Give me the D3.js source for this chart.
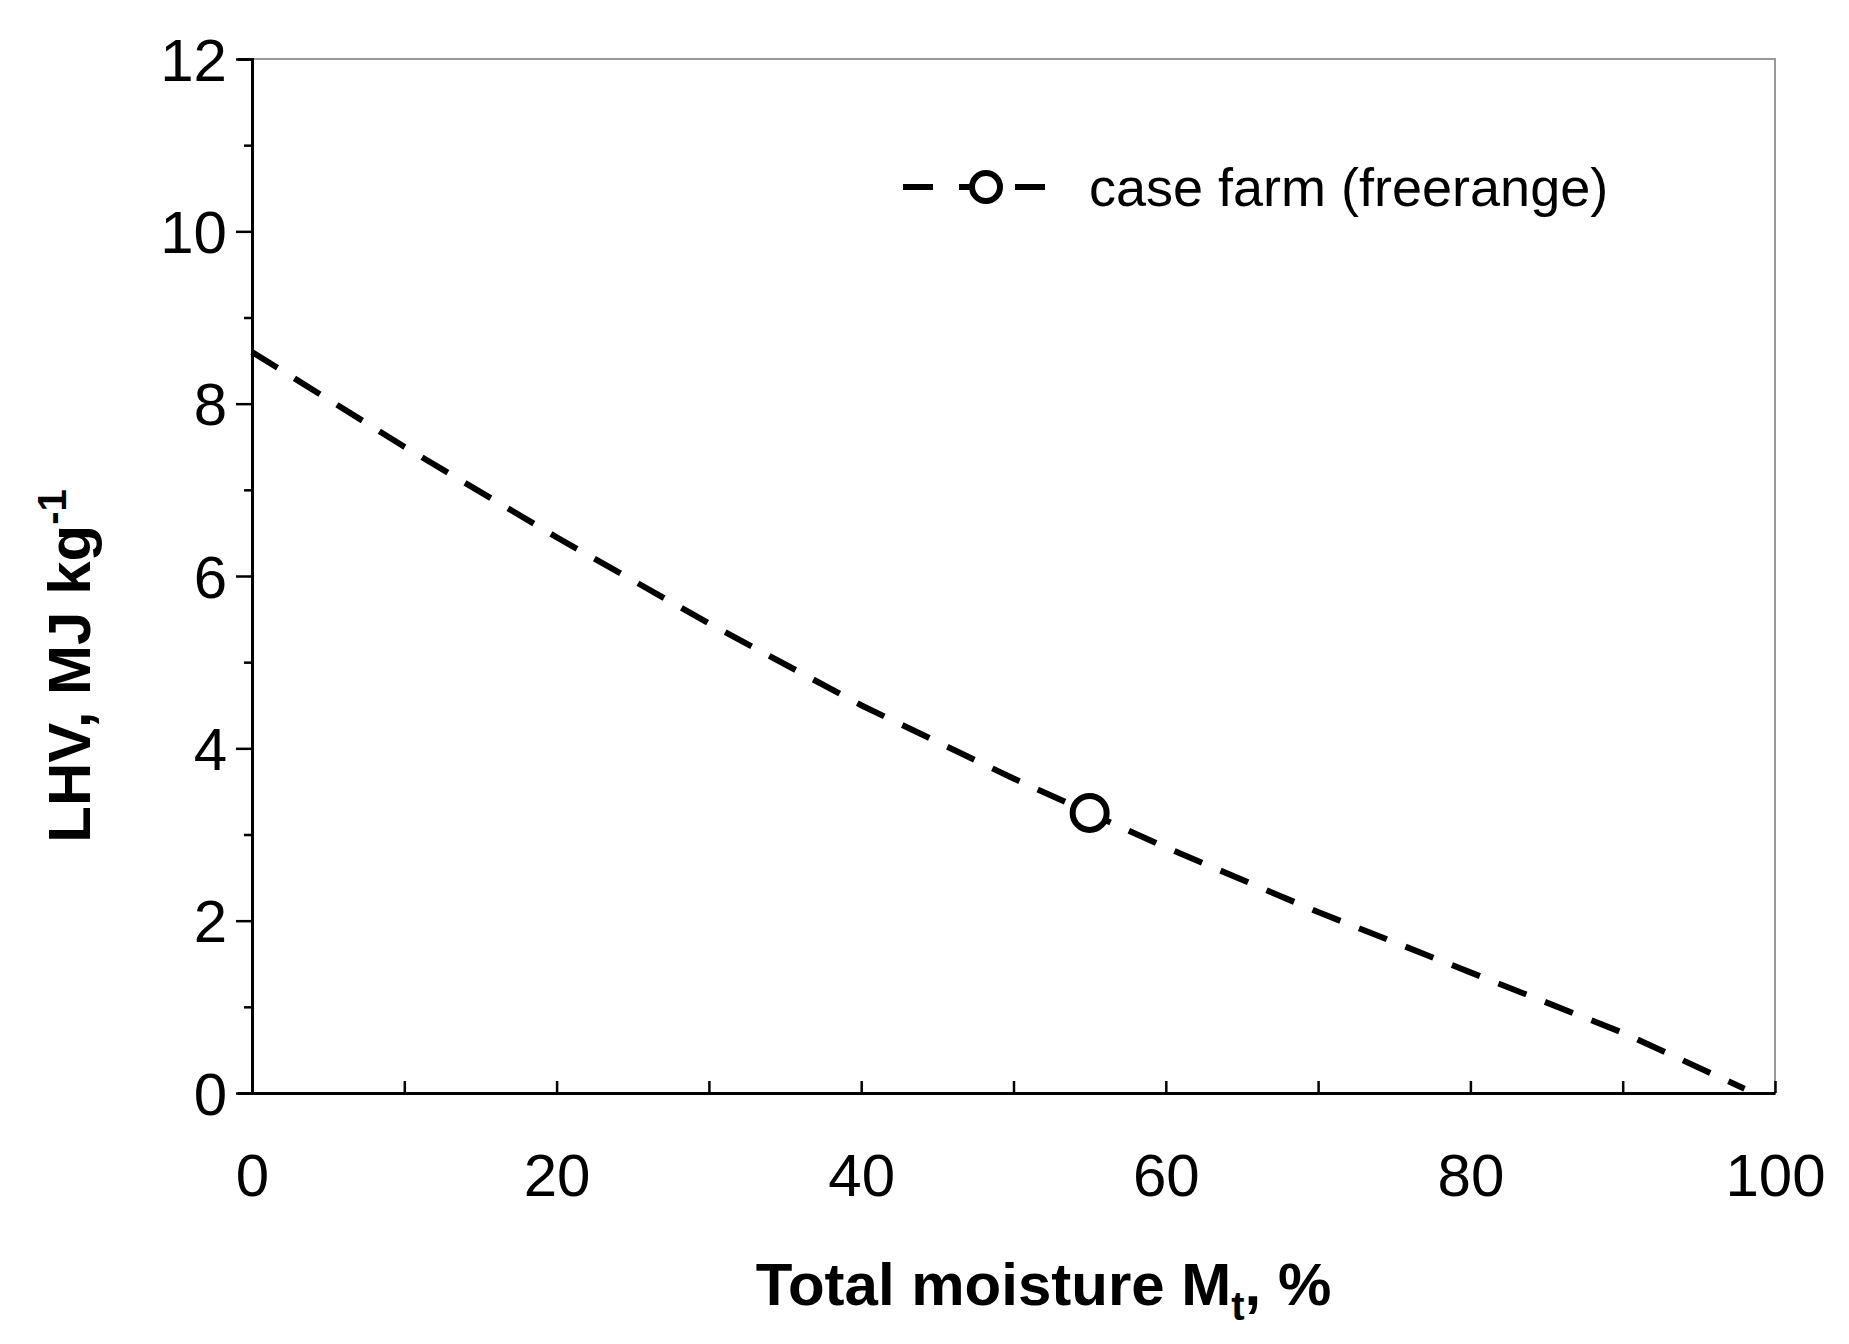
<!DOCTYPE html>
<html><head><meta charset="utf-8">
<script src="https://cdn.jsdelivr.net/npm/d3@7"></script>
<style>body{margin:0;background:#fff}text{font-family:"Liberation Sans",Arial,sans-serif}</style>
</head><body>
<svg width="1849" height="1344"></svg>
<script>
// values
var moisture = [0, 10, 20, 30, 40, 50, 55, 60, 70, 80, 90, 98];
var lhv = [8.6, 7.5, 6.45, 5.45, 4.5, 3.65, 3.25, 2.85, 2.1, 1.4, 0.7, 0.05];
var caseX = [55];
var caseY = [3.25];
var xTicks = [0, 20, 40, 60, 80, 100];
var yTicks = [0, 2, 4, 6, 8, 10, 12];

var svg = d3.select("svg");
var margin = {top: 59, right: 74, bottom: 251, left: 252};
var W = 1849, H = 1344;

var x = d3.scaleLinear().domain([0, 100]).range([margin.left, W - margin.right]);
var y = d3.scaleLinear().domain([0, 12]).range([H - margin.bottom, margin.top]);

svg.append("rect").attr("x", x(0)).attr("y", y(12)).attr("width", x(100) - x(0)).attr("height", y(0) - y(12))
  .attr("fill", "none").attr("stroke", "#999").attr("stroke-width", 2);

var yAxis = svg.append("g").attr("transform", "translate(" + x(0) + ",0)")
  .call(d3.axisLeft(y).tickValues(d3.range(0, 12.1, 1)).tickSize(14).tickFormat(function(d){return yTicks.indexOf(d) >= 0 ? d : "";}));
yAxis.selectAll(".tick line").attr("x2", function(d){return yTicks.indexOf(d) >= 0 ? -16 : -8;});
var xAxis = svg.append("g").attr("transform", "translate(0," + y(0) + ")")
  .call(d3.axisBottom(x).tickValues(d3.range(0, 101, 10)).tickSize(0).tickFormat(function(d){return xTicks.indexOf(d) >= 0 ? d : "";}));
xAxis.selectAll(".tick line").attr("y1", 0).attr("y2", -12);
[yAxis, xAxis].forEach(function(a){
  a.select(".domain").attr("stroke", "#000").attr("stroke-width", 3);
  a.selectAll(".tick line").attr("stroke", "#000").attr("stroke-width", 2.5);
  a.selectAll(".tick text").attr("font-size", 60).attr("fill", "#000");
});
yAxis.selectAll(".tick text").attr("dx", -8).attr("dy", "0.35em");
xAxis.selectAll(".tick text").attr("dy", 100);

var line = d3.line().x(function(d, i){return x(moisture[i]);}).y(function(d){return y(d);});
svg.append("path").datum(lhv).attr("d", line).attr("fill", "none")
  .attr("stroke", "#000").attr("stroke-width", 6).attr("stroke-dasharray", "30,20");
svg.selectAll(".pt").data(caseX).enter().append("circle")
  .attr("cx", function(d){return x(d);}).attr("cy", function(d, i){return y(caseY[i]);})
  .attr("r", 17).attr("fill", "#fff").attr("stroke", "#000").attr("stroke-width", 6);

// legend
var ly = 187;
svg.append("line").attr("x1", 903).attr("x2", 1052).attr("y1", ly).attr("y2", ly)
  .attr("stroke", "#000").attr("stroke-width", 6).attr("stroke-dasharray", "30,26");
svg.append("circle").attr("cx", 986).attr("cy", ly).attr("r", 14).attr("fill", "#fff").attr("stroke", "#000").attr("stroke-width", 6);
svg.append("text").attr("x", 1089).attr("y", ly + 19).attr("font-size", 54).text("case farm (freerange)");

// axis titles
var xt = svg.append("text").attr("x", (x(0) + x(100)) / 2 + 30).attr("y", 1305).attr("text-anchor", "middle")
  .attr("font-size", 60).attr("font-weight", "bold");
xt.append("tspan").text("Total moisture M");
xt.append("tspan").attr("font-size", 40).attr("dy", 15).text("t");
xt.append("tspan").attr("dy", -15).text(", %");
var yt = svg.append("text").attr("transform", "translate(90," + ((y(0) + y(12)) / 2 + 90) + ") rotate(-90)")
  .attr("text-anchor", "middle").attr("font-size", 60).attr("font-weight", "bold");
yt.append("tspan").text("LHV, MJ kg");
yt.append("tspan").attr("font-size", 40).attr("dy", -24).text("-1");
</script>
</body></html>
